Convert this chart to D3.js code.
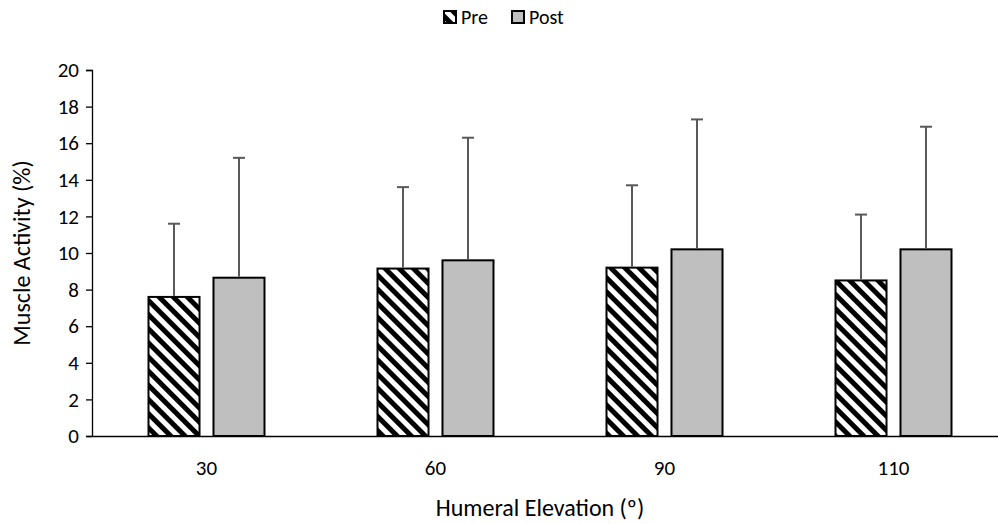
<!DOCTYPE html>
<html>
<head>
<meta charset="utf-8">
<script src="https://cdn.jsdelivr.net/npm/d3@7"></script>
<style>
  body { margin: 0; background: #fff; }
  text { font-family: Carlito, Lato, "Open Sans", sans-serif; fill: #000; }
</style>
</head>
<body>
<div id="chart"></div>
<script>
const categories = ["30", "60", "90", "110"];
const series = ["Pre", "Post"];
const preMean = [7.6, 9.15, 9.2, 8.5];
const preSD = [4.0, 4.45, 4.5, 3.6];
const postMean = [8.65, 9.6, 10.2, 10.2];
const postSD = [6.55, 6.7, 7.1, 6.7];
const yTicks = [0, 2, 4, 6, 8, 10, 12, 14, 16, 18, 20];

const width = 998, height = 524;
const margin = { left: 92, top: 70, bottom: 436 };

const svg = d3.select("#chart").append("svg")
    .attr("width", width)
    .attr("height", height);

const defs = svg.append("defs");
const pat = defs.append("pattern")
    .attr("id", "hatch")
    .attr("patternUnits", "userSpaceOnUse")
    .attr("width", 10)
    .attr("height", 10)
    .attr("patternTransform", "rotate(-45)");
pat.append("rect").attr("width", 10).attr("height", 10).attr("fill", "#fff");
pat.append("rect").attr("width", 5).attr("height", 10).attr("fill", "#000");

const x0 = d3.scaleBand()
    .domain(categories)
    .range([margin.left, margin.left + 916]);

const groupW = 116;
const x1 = d3.scaleBand()
    .domain(series)
    .range([0, groupW])
    .paddingInner(0.215);

const y = d3.scaleLinear()
    .domain([0, 20])
    .range([margin.bottom, margin.top]);

const rows = [];
categories.forEach((c, i) => {
    rows.push({ cat: c, s: "Pre", v: preMean[i], sd: preSD[i] });
    rows.push({ cat: c, s: "Post", v: postMean[i], sd: postSD[i] });
});

const bx = d => x0(d.cat) + (x0.bandwidth() - groupW) / 2 + x1(d.s);

// bars
svg.append("g").selectAll("rect")
    .data(rows)
    .join("rect")
    .attr("x", bx)
    .attr("y", d => y(d.v))
    .attr("width", x1.bandwidth())
    .attr("height", d => y(0) - y(d.v))
    .attr("fill", d => d.s === "Pre" ? "url(#hatch)" : "#bfbfbf")
    .attr("stroke", "#000")
    .attr("stroke-width", 2);

// error bars (upper only)
const eb = svg.append("g").attr("stroke", "#595959").attr("stroke-width", 2);
eb.selectAll("line.v")
    .data(rows)
    .join("line")
    .attr("class", "v")
    .attr("x1", d => bx(d) + x1.bandwidth() / 2)
    .attr("x2", d => bx(d) + x1.bandwidth() / 2)
    .attr("y1", d => y(d.v) - 1)
    .attr("y2", d => y(d.v + d.sd));
eb.selectAll("line.c")
    .data(rows)
    .join("line")
    .attr("class", "c")
    .attr("x1", d => bx(d) + x1.bandwidth() / 2 - 6)
    .attr("x2", d => bx(d) + x1.bandwidth() / 2 + 6)
    .attr("y1", d => y(d.v + d.sd))
    .attr("y2", d => y(d.v + d.sd));

// y axis
const yAxis = svg.append("g")
    .attr("transform", `translate(${margin.left},0)`)
    .call(d3.axisLeft(y).tickValues(yTicks).tickSize(6).tickPadding(7));
yAxis.selectAll("path, line").attr("stroke", "#000").attr("stroke-width", 1.3);
yAxis.selectAll("text").style("font-size", "21px");

// x axis
const xAxis = svg.append("g")
    .attr("transform", `translate(0,${margin.bottom})`)
    .call(d3.axisBottom(x0).tickSize(0).tickPadding(24));
xAxis.select(".domain").attr("stroke", "#000").attr("stroke-width", 1.5);
xAxis.selectAll("text").style("font-size", "21px");

// axis titles
svg.append("text")
    .attr("transform", `translate(30,253) rotate(-90)`)
    .attr("text-anchor", "middle")
    .style("font-size", "24px")
    .text("Muscle Activity (%)");

svg.append("text")
    .attr("x", 540)
    .attr("y", 516)
    .attr("text-anchor", "middle")
    .style("font-size", "24px")
    .text("Humeral Elevation (º)");

// legend
const legend = svg.append("g");
const legendX = [444, 512];
series.forEach((s, i) => {
    legend.append("rect")
        .attr("x", legendX[i])
        .attr("y", 11)
        .attr("width", 12)
        .attr("height", 12)
        .attr("fill", s === "Pre" ? "url(#hatch)" : "#bfbfbf")
        .attr("stroke", "#000")
        .attr("stroke-width", 2);
    legend.append("text")
        .attr("x", legendX[i] + 17)
        .attr("y", 24)
        .style("font-size", "20px")
        .text(s);
});
</script>
</body>
</html>
